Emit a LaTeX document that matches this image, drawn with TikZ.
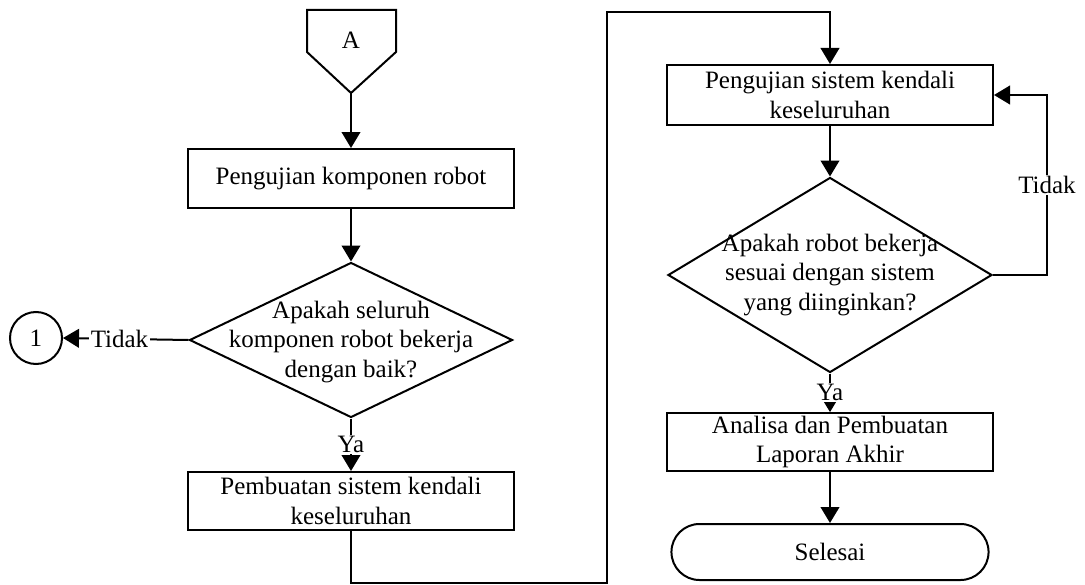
\documentclass[tikz,border=0pt]{standalone}
\usepackage{fontspec}
\setmainfont{Liberation Serif}
\usetikzlibrary{arrows.meta,shapes.geometric,shapes.misc}

\tikzset{
  process/.style={draw, line width=1.5pt, minimum width=244.5pt, inner sep=2pt, align=center},
  decision/.style={draw, diamond, line width=1.5pt, inner sep=0pt},
  terminal/.style={draw, rounded rectangle, line width=1.5pt, minimum width=244.5pt, minimum height=42pt},
  flow/.style={line width=1.5pt, -{Triangle[length=12pt,width=14pt]}},
  lbl/.style={fill=white, inner sep=1pt}
}

\begin{document}
\begin{tikzpicture}[x=0.75pt,y=-0.75pt,font=\fontsize{18.75}{22.3}\selectfont]
  \useasboundingbox (0,0) rectangle (1085,585);

  % off-page connector A
  \draw[line width=1.5pt] (307,10) -- (396,10) -- (396,52) -- (351,93) -- (307,52) -- cycle;
  \node (conA) at (351,40) {A};
  \coordinate (conAtip) at (351,93);

  % left column
  \node[process, minimum height=44.25pt] (testkomp) at (351,178.5) {Pengujian komponen robot};
  \node[decision, minimum width=242.25pt, minimum height=116.25pt] (dec1) at (351,340) {};
  \node[align=center] (dec1text) at (351,342) {Apakah seluruh\\komponen robot bekerja\\dengan baik?};
  \node[process, minimum height=43.5pt] (build) at (351,501) {Pembuatan sistem kendali\\keseluruhan};
  \node[draw, circle, line width=1.5pt, minimum size=39pt, inner sep=0pt] (con1) at (36,338) {1};

  % right column
  \node[process, minimum height=45pt] (testsys) at (830,95) {Pengujian sistem kendali\\keseluruhan};
  \node[decision, minimum width=243pt, minimum height=146.25pt] (dec2) at (830,275) {};
  \node[align=center] (dec2text) at (dec2) {Apakah robot bekerja\\sesuai dengan sistem\\yang diinginkan?};
  \node[process, minimum height=42pt] (report) at (830,442) {Analisa dan Pembuatan\\Laporan Akhir};
  \node[terminal] (finish) at (830,552) {Selesai};

  \coordinate (jumpbot) at (607,583);
  \coordinate (jumptop) at (607,12);

  % connectors
  \draw[flow] (dec1.west) -- node[lbl, pos=0.55] {Tidak} (con1.east);
  \draw[flow] (conAtip) -- (testkomp.north);
  \draw[flow] (testkomp.south) -- (dec1.north);
  \draw[flow] (dec1.south) -- node[lbl] {Ya} (build.north);
  \draw[flow] (build.south) |- (jumpbot) -- (jumptop) -| (testsys.north);
  \draw[flow] (testsys.south) -- (dec2.north);
  \draw[flow] (dec2.east) -- ++(54,0) |- node[lbl, pos=0.25] {Tidak} (testsys.east);
  \draw[flow] (dec2.south) -- node[lbl] {Ya} (report.north);
  \draw[flow] (report.south) -- (finish.north);
\end{tikzpicture}
\end{document}
